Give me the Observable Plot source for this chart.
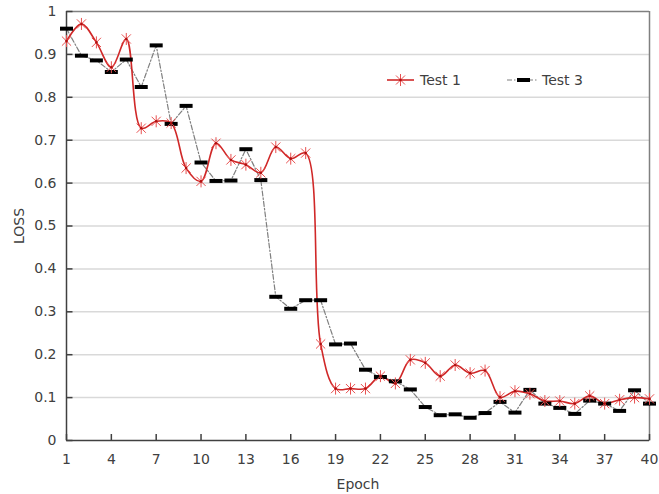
<!DOCTYPE html>
<html><head><meta charset="utf-8">
<script src="https://cdn.jsdelivr.net/npm/d3@7"></script>
<script src="https://cdn.jsdelivr.net/npm/@observablehq/plot@0.6"></script>
<style>
body{margin:0;background:#fff;font-family:"DejaVu Sans",Verdana,sans-serif;}
#wrap{position:relative;width:659px;height:494px;}
.leg{position:absolute;top:70px;height:20px;font-size:14px;color:#404040;display:flex;align-items:center;white-space:nowrap}
</style></head><body><div id="wrap"></div>
<script>
const epochs = [1,2,3,4,5,6,7,8,9,10,11,12,13,14,15,16,17,18,19,20,21,22,23,24,25,26,27,28,29,30,31,32,33,34,35,36,37,38,39,40];
const test1 = [0.931,0.971,0.928,0.870,0.936,0.728,0.744,0.740,0.635,0.604,0.693,0.654,0.643,0.624,0.684,0.657,0.670,0.225,0.121,0.121,0.121,0.150,0.133,0.188,0.181,0.150,0.176,0.157,0.163,0.101,0.115,0.109,0.092,0.092,0.086,0.104,0.086,0.095,0.100,0.097];
const test3 = [0.960,0.897,0.886,0.859,0.888,0.824,0.921,0.738,0.780,0.648,0.605,0.606,0.679,0.607,0.335,0.307,0.327,0.327,0.224,0.226,0.165,0.148,0.138,0.119,0.078,0.059,0.061,0.053,0.064,0.090,0.065,0.118,0.086,0.076,0.062,0.093,0.086,0.069,0.117,0.086];
const seriesNames = ["Test 1","Test 3"];
const xTicks = [1,4,7,10,13,16,19,22,25,28,31,34,37,40];
const yTicks = [0,0.1,0.2,0.3,0.4,0.5,0.6,0.7,0.8,0.9,1];

const d1 = epochs.map((e,i)=>({epoch:e, loss:test1[i]}));
const d3s = epochs.map((e,i)=>({epoch:e, loss:test3[i]}));

const asterisk = {draw(ctx){const r=6,d=4.6;ctx.moveTo(0,-r);ctx.lineTo(0,r);ctx.moveTo(-d,-d);ctx.lineTo(d,d);ctx.moveTo(-d,d);ctx.lineTo(d,-d);}};
const dash = {draw(ctx){ctx.rect(-6.5,-2,13,4);}};
const tickUp = {draw(ctx){ctx.moveTo(0,0);ctx.lineTo(0,-6.5);}};
const tickRight = {draw(ctx){ctx.moveTo(0,0);ctx.lineTo(6,0);}};

const red = "#d02828", redMark = "#e85050", axisCol = "#404040";

const chart = Plot.plot({
  width:659, height:494, marginLeft:66, marginRight:10, marginTop:11, marginBottom:54,
  style:{fontFamily:"DejaVu Sans, Verdana, sans-serif", fontSize:"14px", color:"#404040", background:"white"},
  x:{domain:[1,40]}, y:{domain:[0,1]},
  marks:[
    Plot.gridY(yTicks.filter(v=>v>0&&v<1),{stroke:"#d9d9d9",strokeOpacity:1,strokeWidth:1.5}),
    Plot.ruleY([1],{stroke:"#808080",strokeWidth:1.5}),
    Plot.ruleX([40],{stroke:"#808080",strokeWidth:1.5}),
    Plot.ruleX([1],{stroke:axisCol,strokeWidth:1.5}),
    Plot.ruleY([0],{stroke:axisCol,strokeWidth:1.5}),
    Plot.dot(xTicks,{x:d=>d,y:()=>0,symbol:tickUp,stroke:axisCol,fill:"none",strokeWidth:1.5}),
    Plot.dot(yTicks,{x:()=>1,y:d=>d,symbol:tickRight,stroke:axisCol,fill:"none",strokeWidth:1.5}),
    Plot.axisX(xTicks,{tickSize:0,tickPadding:14,label:"Epoch",labelAnchor:"center",labelOffset:48,labelArrow:"none"}),
    Plot.axisY(yTicks,{tickSize:0,tickPadding:10,label:"LOSS",labelAnchor:"center",labelOffset:52,labelArrow:"none",tickFormat:d=>String(d)}),
    Plot.line(d3s,{x:"epoch",y:"loss",stroke:"#7f7f7f",strokeWidth:1.2,strokeDasharray:"5,2,1.5,2"}),
    Plot.line(d1,{x:"epoch",y:"loss",stroke:red,strokeWidth:1.6,curve:"catmull-rom"}),
    Plot.dot(d3s,{x:"epoch",y:"loss",symbol:dash,fill:"#000",stroke:"none"}),
    Plot.dot(d1,{x:"epoch",y:"loss",symbol:asterisk,stroke:redMark,fill:"none",strokeWidth:1}),
    Plot.dot(d1,{x:"epoch",y:"loss",r:1.3,fill:"#b01010",stroke:"none"})
  ]
});
const wrap = document.getElementById("wrap");
wrap.appendChild(chart);

const leg1 = document.createElement("div");
leg1.className="leg"; leg1.style.left="387px";
leg1.innerHTML = `<svg width="28" height="14"><line x1="0" y1="7" x2="27" y2="7" stroke="${red}" stroke-width="1.6"/><path d="M13.5 1V13M9 2.5L18 11.5M9 11.5L18 2.5" stroke="${redMark}" fill="none"/><circle cx="13.5" cy="7" r="1.3" fill="#b01010"/></svg><span style="margin-left:5px">${seriesNames[0]}</span>`;
wrap.appendChild(leg1);
const leg2 = document.createElement("div");
leg2.className="leg"; leg2.style.left="507px";
leg2.innerHTML = `<svg width="32" height="14"><line x1="0" y1="7" x2="31" y2="7" stroke="#7f7f7f" stroke-width="1.2" stroke-dasharray="5,2,1.5,2"/><rect x="10" y="5" width="13" height="4" fill="#000"/></svg><span style="margin-left:3px">${seriesNames[1]}</span>`;
wrap.appendChild(leg2);
</script></body></html>
